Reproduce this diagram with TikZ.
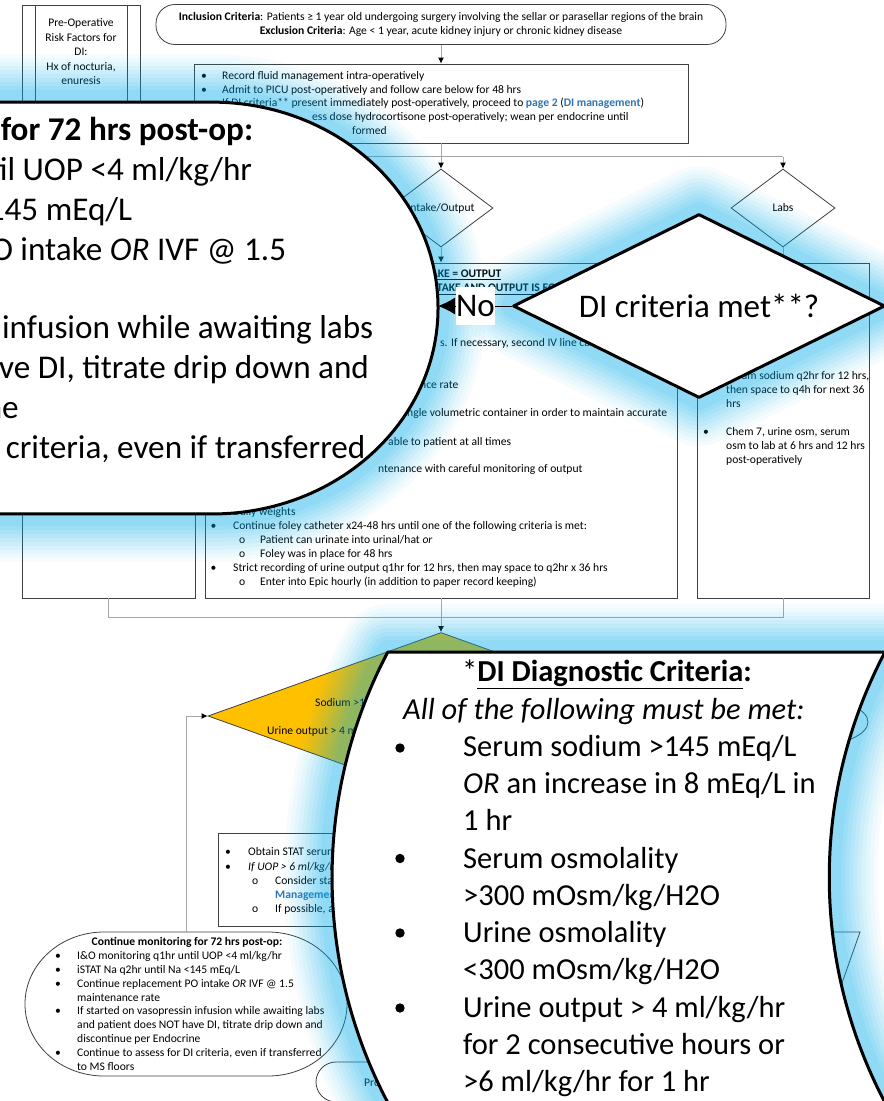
\documentclass[tikz,border=0pt]{standalone}
\usepackage{fontspec}
\setmainfont{Carlito}
\usetikzlibrary{arrows.meta,shapes.geometric}
\definecolor{glowc}{RGB}{0,176,240}
\definecolor{linkblue}{RGB}{46,116,181}
\definecolor{connc}{RGB}{166,166,166}
\definecolor{boxline}{RGB}{64,64,64}
\definecolor{dyellow}{RGB}{255,192,0}
\newcommand\smallfs{\fontsize{11.6}{14}\selectfont}
\newcommand\bigfs{\fontsize{30.5}{37.3}\selectfont}
\newcommand\hugefs{\fontsize{33}{40}\selectfont}
\tikzset{
  lbl/.style={anchor=base west, inner sep=0pt},
  clbl/.style={anchor=base, inner sep=0pt},
  box/.style={draw=boxline, line width=0.8pt, inner sep=0pt},
  conn/.style={draw=connc, line width=0.9pt},
  arr/.style={conn, -{Latex[length=6pt,width=6pt,color=black]}},
  callout/.style={draw=black, line width=3pt, fill=white, line join=round},
  bigdot/.style={circle, fill=black, minimum size=9.4pt, inner sep=0pt},
}
% soft halo: stacked translucent strokes around a closed path
\newcommand\halo[1]{%
  \foreach \w/\a in {96/0.035,88/0.04,80/0.04,72/0.045,64/0.05,56/0.055,48/0.06,40/0.065,32/0.07,24/0.07}{%
    \path[draw=glowc, draw opacity=\a, line width=\w pt, line join=round] #1;}}
% terminator outline of the monitoring box
\newcommand\stadium{(104,932) -- (268,932) .. controls (311.6,932) and (347,964.2) .. (347,1004)
  .. controls (347,1043.8) and (311.6,1076) .. (268,1076) -- (104,1076)
  .. controls (60.4,1076) and (25,1043.8) .. (25,1004)
  .. controls (25,964.2) and (60.4,932) .. (104,932) -- cycle}
% curved criteria panel
\newcommand\panel{(388,652) -- (885,652) arc[start angle=152.2, end angle=215, radius=483pt]
  -- (419.4,1154.3) arc[start angle=215, end angle=152.2, radius=483pt] -- cycle}
% text of the monitoring box, node names prefixed by #1
\newcommand\monitortext[1]{%
  \node[clbl] (#1h) at (187,945.5) {\bfseries Continue monitoring for 72 hrs post-op:};
  \node[lbl] (#1a) at (77,959.5) {I\&O monitoring q1hr until UOP <4 ml/kg/hr};
  \node[lbl] (#1b) at (77,973.5) {iSTAT Na q2hr until Na <145 mEq/L};
  \node[lbl] (#1c) at (77,987.5) {Continue replacement PO intake \textit{OR} IVF @ 1.5};
  \node[lbl] (#1d) at (77,1001.5) {maintenance rate};
  \node[lbl] (#1e) at (77,1014.5) {If started on vasopressin infusion while awaiting labs};
  \node[lbl] (#1f) at (77,1028.5) {and patient does NOT have DI, titrate drip down and};
  \node[lbl] (#1g) at (77,1042.5) {discontinue per Endocrine};
  \node[lbl] (#1i) at (77,1056.5) {Continue to assess for DI criteria, even if transferred};
  \node[lbl] (#1j) at (77,1070.5) {to MS floors};
  \foreach \y [count=\k] in {959.5,973.5,987.5,1014.5,1056.5}
    \node[lbl] (#1bul\k) at (55,\y) {\textbullet};
}
\begin{document}
\begin{tikzpicture}[x=1pt, y=-1pt, font=\smallfs]
\useasboundingbox (0,0) rectangle (884,1101);
\clip (0,0) rectangle (884,1101);
\fill[white] (0,0) rectangle (884,1101);

% ---------- flowchart ----------
\node[box, rounded corners=19pt, minimum width=570pt, minimum height=40pt, align=center] (incl) at (441,24.5)
  {\textbf{Inclusion Criteria}: Patients ≥ 1 year old undergoing surgery involving the sellar or parasellar regions of the brain\\
   \textbf{Exclusion Criteria}: Age < 1 year, acute kidney injury or chronic kidney disease};

\node[box, minimum width=118pt, minimum height=115pt, anchor=north west] (pre) at (22,5) {};
\draw[boxline, line width=0.8pt] ([xshift=13pt]pre.north west) -- ([xshift=13pt]pre.south west);
\draw[boxline, line width=0.8pt] ([xshift=-13pt]pre.north east) -- ([xshift=-13pt]pre.south east);
\node[align=center, font=\fontsize{11.6}{14.5}\selectfont] (pretxt) at (81,52)
  {Pre-Operative\\Risk Factors for\\DI:\\Hx of nocturia,\\enuresis};

\node[box, minimum width=494pt, minimum height=79pt] (fluid) at (441,103.5) {};
\node[lbl] (f1b) at (201,79.2) {\textbullet};
\node[lbl] (f1) at (222,79.2) {Record fluid management intra-operatively};
\node[lbl] (f2b) at (201,93) {\textbullet};
\node[lbl] (f2) at (222,93) {Admit to PICU post-operatively and follow care below for 48 hrs};
\node[lbl] (f3) at (222,106.8) {If DI criteria** present immediately post-operatively, proceed to \textcolor{linkblue}{\textbf{page 2}} (\textcolor{linkblue}{\textbf{DI management}})};
\node[lbl] (f4) at (312,120.8) {ess dose hydrocortisone post-operatively; wean per endocrine until};
\node[lbl] (f5) at (352,134.8) {formed};

\node[diamond, box, minimum width=104pt, minimum height=78pt, aspect=1.33] (io) at (441,208) {Intake/Output};
\node[diamond, box, minimum width=104pt, minimum height=78pt, aspect=1.33] (labs) at (783,208) {Labs};

\node[box, minimum width=173pt, minimum height=335pt] (lbox) at (108.5,430.5) {};
\node[box, minimum width=472pt, minimum height=335pt] (mbox) at (441,430.5) {};
\node[box, minimum width=172pt, minimum height=335pt] (rbox) at (783,430.5) {};

% intake/output column
\node[lbl] (h1) at (415,277.5) {\underline{\textbf{INTAKE = OUTPUT}}};
\node[lbl] (h2) at (415,291) {\underline{\textbf{IF INTAKE AND OUTPUT IS EQUAL}}};
\node[lbl] (m1) at (440,346.5) {s. If necessary, second IV line can be placed};
\node[lbl] (m2) at (420,388.5) {nce rate};
\node[lbl] (m3) at (407,416.5) {ngle volumetric container in order to maintain accurate};
\node[lbl] (m4) at (388,445.5) {able to patient at all times};
\node[lbl] (m5) at (378,472.5) {ntenance with careful monitoring of output};
\node[lbl] (m6) at (233,515.5) {Daily weights};
\node[lbl] (m7b) at (210.5,529.5) {\textbullet};
\node[lbl] (m7) at (233,529.5) {Continue foley catheter x24-48 hrs until one of the following criteria is met:};
\node[lbl] (m8b) at (239,543.5) {o};
\node[lbl] (m8) at (260,543.5) {Patient can urinate into urinal/hat \textit{or}};
\node[lbl] (m9b) at (239,557.5) {o};
\node[lbl] (m9) at (260,557.5) {Foley was in place for 48 hrs};
\node[lbl] (m10b) at (210.5,571.5) {\textbullet};
\node[lbl] (m10) at (233,571.5) {Strict recording of urine output q1hr for 12 hrs, then may space to q2hr x 36 hrs};
\node[lbl] (m11b) at (239,585.5) {o};
\node[lbl] (m11) at (260,585.5) {Enter into Epic hourly (in addition to paper record keeping)};

% labs column
\node[lbl] (r1) at (726,379.5) {Serum sodium q2hr for 12 hrs,};
\node[lbl] (r2) at (726,393.5) {then space to q4h for next 36};
\node[lbl] (r3) at (726,407.5) {hrs};
\node[lbl] (r4b) at (703,435.5) {\textbullet};
\node[lbl] (r4) at (726,435.5) {Chem 7, urine osm, serum};
\node[lbl] (r5) at (726,449.5) {osm to lab at 6 hrs and 12 hrs};
\node[lbl] (r6) at (726,463.5) {post-operatively};

% decision on sodium / urine output
\node[diamond, box, fill=dyellow, minimum width=466pt, minimum height=167pt, aspect=2.8] (crit) at (441,716) {};
\node[lbl] (c1) at (315,706.5) {Sodium >145 mEq/L};
\node[lbl] (c2) at (267,734.5) {Urine output > 4 ml/kg/hr};

\node[box, minimum width=222pt, minimum height=93pt] (stat) at (329,879.5) {};
\node[lbl] (s1b) at (225,855.5) {\textbullet};
\node[lbl] (s1) at (248,855.5) {Obtain STAT serum};
\node[lbl] (s2b) at (225,870.5) {\textbullet};
\node[lbl] (s2) at (248,870.5) {\textit{If UOP > 6 ml/kg/hr}};
\node[lbl] (s3b) at (252,884.5) {o};
\node[lbl] (s3) at (275,884.5) {Consider starting};
\node[lbl] (s4) at (275,898.5) {\textcolor{linkblue}{\textbf{Management}}};
\node[lbl] (s5b) at (252,912.5) {o};
\node[lbl] (s5) at (275,912.5) {If possible, a};

\path[box] \stadium;
\monitortext{s}
\coordinate (montop) at (186,932);

\draw[box] (520,1062) -- (336,1062) .. controls (325,1062) and (316,1071) .. (316,1082)
  .. controls (316,1093) and (325,1102) .. (336,1102) -- (520,1102);
\node[lbl] (proc) at (364,1086.5) {Proceed};

\node[ellipse, box, minimum width=116pt, minimum height=48pt] (yesoval) at (810,722) {};
\draw[box] (720,932) -- (860,932) -- (836,1000) -- (744,1000) -- cycle;

% connectors
\coordinate (j1) at (441,156.5);
\coordinate (j2) at (441,617);
\draw[arr] (incl.south) -- (fluid.north);
\draw[conn] (fluid.south) -- (j1);
\draw[conn] (lbox.north |- j1) -- (labs.north |- j1);
\draw[arr] (io.north |- j1) -- (io.north);
\draw[arr] (labs.north |- j1) -- (labs.north);
\draw[arr] (io.south) -- (mbox.north);
\draw[arr] (labs.south) -- (rbox.north);
\draw[conn] (lbox.south) -- (lbox.south |- j2) -- (rbox.south |- j2) -- (rbox.south);
\draw[arr] (mbox.south) -- (crit.north);
\draw[arr] (montop) |- (crit.west);

% ---------- halos ----------
\begin{scope}[shift={(-554.4,-2563.4)}, scale=2.86]
  \halo{\stadium}
\end{scope}
\halo{(513,306) -- (699,214) -- (885,306) -- (699,398) -- cycle}
\halo{\panel}

% ---------- enlarged monitoring box ----------
\begin{scope}[shift={(-554.4,-2563.4)}, scale=2.86, transform shape]
  \path[callout] \stadium;
  \monitortext{m}
\end{scope}

% ---------- enlarged decision ----------
\node[diamond, callout, minimum width=372pt, minimum height=184pt, aspect=2.02, inner sep=0pt, font=\hugefs] (dmag) at (699,306) {DI criteria met**?};
\coordinate (noend) at (438,306);
\draw[line width=1pt, -{Latex[length=17pt,width=17pt]}] (dmag.west) -- (noend);
\node[fill=white, inner sep=0pt, minimum width=39pt, minimum height=38pt, font=\hugefs] (nolbl) at (475.5,306) {No};

% ---------- enlarged criteria panel ----------
\path[callout] \panel;
\node[clbl, font=\bigfs] (ptitle) at (607,681.5) {*\underline{\textbf{DI Diagnostic Criteria}}\textbf{:}};
\node[lbl, font=\bigfs] (psub) at (403,719) {\textit{All of the following must be met:}};
\node[lbl, font=\bigfs] (p1) at (463,756) {Serum sodium >145 mEq/L};
\node[lbl, font=\bigfs] (p2) at (463,793.4) {\textit{OR} an increase in 8 mEq/L in};
\node[lbl, font=\bigfs] (p3) at (463,830.7) {1 hr};
\node[lbl, font=\bigfs] (p4) at (463,868) {Serum osmolality};
\node[lbl, font=\bigfs] (p5) at (463,905.3) {>300 mOsm/kg/H2O};
\node[lbl, font=\bigfs] (p6) at (463,942.6) {Urine osmolality};
\node[lbl, font=\bigfs] (p7) at (463,979.9) {<300 mOsm/kg/H2O};
\node[lbl, font=\bigfs] (p8) at (463,1017.2) {Urine output > 4 ml/kg/hr};
\node[lbl, font=\bigfs] (p9) at (463,1054.5) {for 2 consecutive hours or};
\node[lbl, font=\bigfs] (p10) at (463,1091.8) {>6 ml/kg/hr for 1 hr};
\node[bigdot] (pb1) at (400,748) {};
\node[bigdot] (pb2) at (400,858.5) {};
\node[bigdot] (pb3) at (400,933) {};
\node[bigdot] (pb4) at (400,1008) {};
\end{tikzpicture}
\end{document}
